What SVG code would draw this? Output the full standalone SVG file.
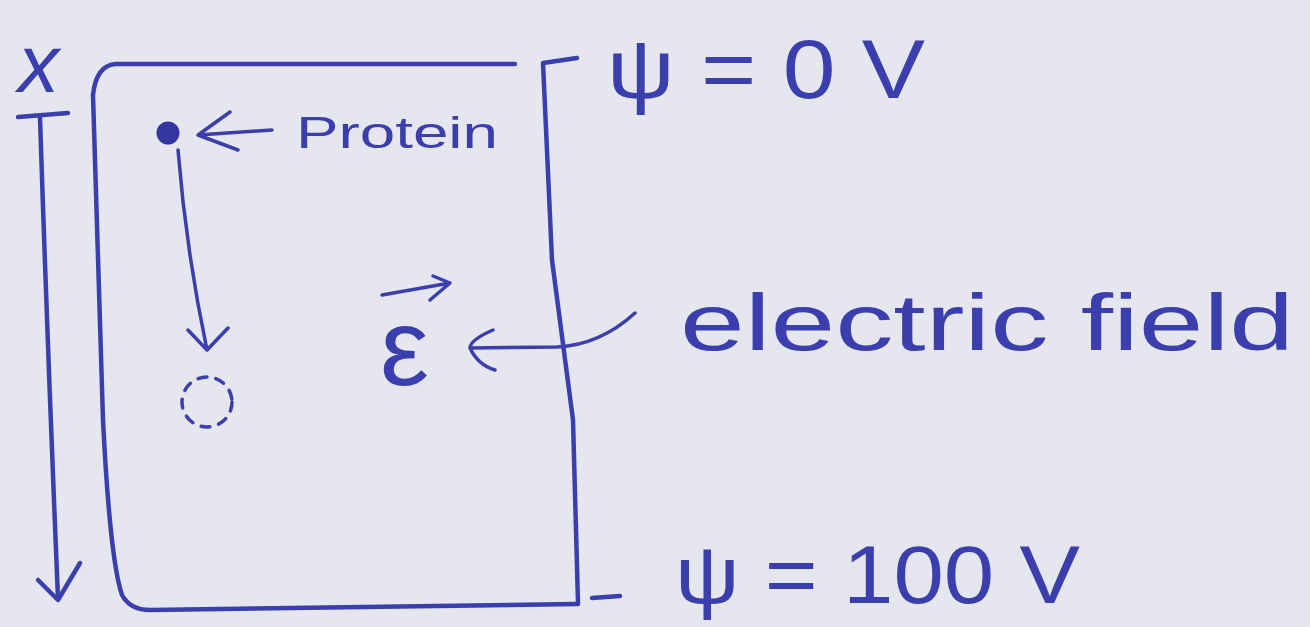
<svg xmlns="http://www.w3.org/2000/svg" width="1310" height="627" viewBox="0 0 1310 627">
  <defs>
    <style>
      .ink { fill: none; stroke: #3b3fae; stroke-width: 4.5; stroke-linecap: round; stroke-linejoin: round; }
      .thin { fill: none; stroke: #3b3fae; stroke-width: 3.5; stroke-linecap: round; stroke-linejoin: round; }
      .txt { fill: #3b3fae; font-family: "Liberation Sans", "DejaVu Sans", sans-serif; }
    </style>
  </defs>
  <rect x="0" y="0" width="1310" height="627" fill="#e5e6ee"/>

  <g id="container">
    <path class="ink" d="M515,64 L115,64 Q96,66 93,95 L103,420 Q110,560 122,595 Q130,610 150,610 L578,604"/>
    <path class="ink" d="M577,58 L543,63 L552,260 L573,420 L578,603"/>
    <path class="ink" d="M592,598 L620,596"/>
  </g>

  <g id="x-axis">
    <text class="txt" x="18" y="92" font-size="82" font-style="italic" font-family="Liberation Serif, serif">x</text>
    <path class="ink" d="M18,117 L68,113"/>
  </g>

  <g id="protein">
    <circle cx="168" cy="133" r="10" fill="#33379f" stroke="#33379f" stroke-width="3"/>
    <text class="txt" x="296" y="148" font-size="44" textLength="202" lengthAdjust="spacingAndGlyphs">Protein</text>
  </g>

  <g id="protein-moved">
    <circle cx="207" cy="402" r="25" fill="none" stroke="#3b3fae" stroke-width="3.5" stroke-dasharray="9,9" stroke-linecap="round"/>
  </g>

  <g id="field-symbol">
    <text class="txt" x="380" y="385" font-size="110" font-family="Liberation Serif, serif">ε</text>
    <path class="thin" d="M382,295 L450,283 M433,276 L450,283 L430,300"/>
  </g>

  <g id="label-top">
    <text class="txt" x="607" y="98" font-size="84" textLength="318" lengthAdjust="spacingAndGlyphs">ψ = 0 V</text>
  </g>

  <g id="label-field">
    <text class="txt" x="680" y="350" font-size="80" textLength="614" lengthAdjust="spacingAndGlyphs">electric field</text>
  </g>

  <g id="label-bottom">
    <text class="txt" x="675" y="603" font-size="82" textLength="405" lengthAdjust="spacingAndGlyphs">ψ = 100 V</text>
  </g>

  <g id="connectors">
    <path class="ink" d="M40,118 Q48,360 58,598"/>
    <path class="ink" d="M38,580 L58,600 L80,563"/>
    <path class="thin" d="M272,130 L198,135 M230,112 L198,135 L238,150"/>
    <path class="thin" d="M178,150 Q186,250 207,350 M188,330 L207,350 L228,328"/>
    <path class="thin" d="M635,313 Q600,345 557,347 L470,348 M493,330 Q470,340 470,348 Q478,365 495,370"/>
  </g>
</svg>
